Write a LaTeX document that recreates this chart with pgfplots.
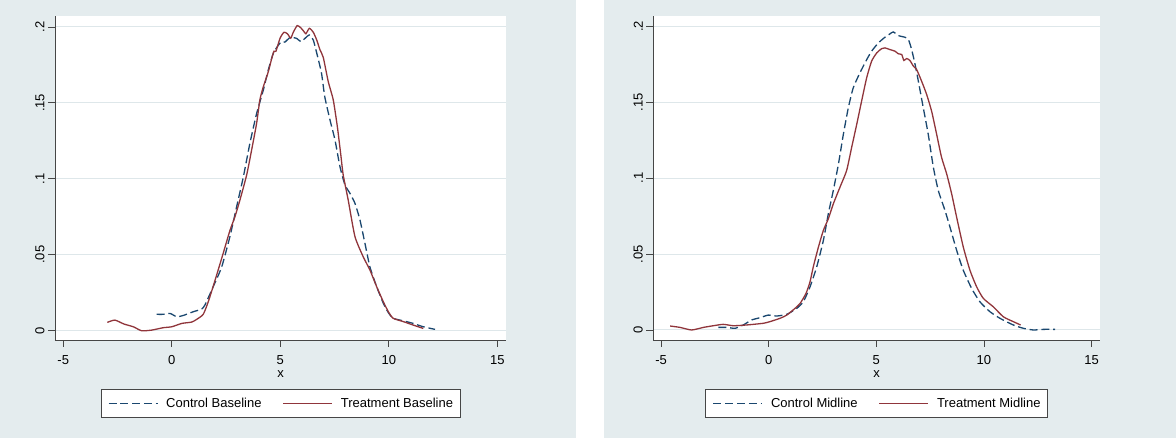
\documentclass[border=0pt]{standalone}
\usepackage{pgfplots}
\pgfplotsset{compat=1.18}
\usepackage{fontspec}
\setmainfont{Liberation Sans}
\definecolor{bgc}{RGB}{228,236,238}
\definecolor{gridc}{RGB}{222,231,234}
\definecolor{ctrl}{RGB}{26,71,111}
\definecolor{treat}{RGB}{144,53,59}
\definecolor{axc}{RGB}{70,70,70}

\pgfplotstableread{
x y
-2.97 0.0055
-2.62 0.0070
-2.20 0.0044
-1.77 0.0026
-1.39 0.0000
-0.93 0.0004
-0.39 0.0020
0.00 0.0026
0.46 0.0048
0.92 0.0057
1.15 0.0075
1.45 0.0108
1.68 0.0190
1.99 0.0330
2.37 0.0510
2.68 0.0660
2.91 0.0750
3.14 0.0860
3.45 0.1025
3.68 0.1190
3.91 0.1366
4.06 0.1520
4.22 0.1607
4.45 0.1706
4.60 0.1790
4.71 0.1840
4.80 0.1840
4.99 0.1926
5.17 0.1965
5.33 0.1955
5.48 0.1926
5.60 0.1965
5.78 0.2009
5.94 0.1995
6.09 0.1970
6.18 0.1955
6.34 0.1991
6.52 0.1965
6.68 0.1914
6.83 0.1849
6.98 0.1800
7.21 0.1640
7.44 0.1520
7.63 0.1343
7.78 0.1168
7.90 0.1025
8.13 0.0860
8.44 0.0620
8.82 0.0487
9.13 0.0400
9.44 0.0290
9.75 0.0190
9.98 0.0125
10.20 0.0082
10.67 0.0060
11.13 0.0037
11.59 0.0015
}\treatbase

\pgfplotstableread{
x y
-0.70 0.0108
-0.39 0.0108
-0.08 0.0114
0.23 0.0092
0.54 0.0101
0.99 0.0125
1.38 0.0143
1.53 0.0170
1.91 0.0290
2.30 0.0420
2.68 0.0620
2.99 0.0817
3.30 0.1014
3.60 0.1234
3.91 0.1430
4.22 0.1585
4.45 0.1718
4.68 0.1827
4.91 0.1880
5.06 0.1903
5.21 0.1900
5.45 0.1930
5.75 0.1925
5.95 0.1903
6.14 0.1925
6.34 0.1947
6.52 0.1914
6.70 0.1816
6.90 0.1695
7.05 0.1540
7.29 0.1388
7.52 0.1256
7.75 0.1080
7.98 0.0960
8.21 0.0905
8.44 0.0839
8.67 0.0730
8.90 0.0576
9.13 0.0420
9.44 0.0290
9.75 0.0180
9.98 0.0119
10.20 0.0082
10.67 0.0065
11.13 0.0048
11.59 0.0026
12.13 0.0009
}\ctrlbase

\pgfplotstableread{
x y
-4.58 0.0026
-4.12 0.0017
-3.58 0.0000
-3.03 0.0017
-2.57 0.0028
-2.11 0.0037
-1.64 0.0028
-1.02 0.0033
-0.25 0.0044
0.06 0.0055
0.53 0.0077
0.84 0.0098
1.22 0.0142
1.46 0.0175
1.73 0.0240
1.92 0.0317
2.07 0.0415
2.31 0.0546
2.54 0.0656
2.77 0.0732
3.00 0.0830
3.31 0.0940
3.62 0.1050
3.85 0.1200
4.09 0.1355
4.32 0.1510
4.55 0.1660
4.78 0.1770
5.02 0.1825
5.25 0.1853
5.40 0.1858
5.63 0.1847
5.87 0.1836
6.02 0.1819
6.18 0.1814
6.28 0.1775
6.41 0.1788
6.56 0.1775
6.72 0.1738
6.87 0.1716
7.10 0.1640
7.34 0.1550
7.57 0.1440
7.80 0.1290
8.03 0.1137
8.27 0.1027
8.50 0.0896
8.73 0.0743
9.04 0.0546
9.35 0.0393
9.66 0.0284
9.97 0.0208
10.43 0.0153
10.90 0.0087
11.36 0.0055
11.70 0.0033
}\treatmid

\pgfplotstableread{
x y
-2.34 0.0017
-1.95 0.0017
-1.56 0.0011
-1.18 0.0033
-0.79 0.0066
-0.40 0.0081
-0.02 0.0098
0.37 0.0092
0.84 0.0103
1.30 0.0142
1.61 0.0186
1.92 0.0284
2.23 0.0415
2.54 0.0590
2.77 0.0765
3.00 0.0918
3.24 0.1093
3.47 0.1290
3.70 0.1464
3.93 0.1596
4.24 0.1694
4.55 0.1780
4.78 0.1836
5.09 0.1890
5.40 0.1928
5.63 0.1950
5.79 0.1963
6.02 0.1939
6.33 0.1928
6.49 0.1913
6.64 0.1847
6.80 0.1749
6.95 0.1640
7.18 0.1464
7.41 0.1290
7.65 0.1071
7.88 0.0918
8.19 0.0787
8.42 0.0678
8.73 0.0525
9.04 0.0393
9.43 0.0273
9.81 0.0186
10.28 0.0120
10.74 0.0077
11.36 0.0033
11.83 0.0011
12.29 0.0000
12.76 0.0004
13.30 0.0004
}\ctrlmid

\pgfplotsset{
  stata/.style={
    scale only axis,
    width=450pt, height=324pt,
    xmin=-5.38, xmax=15.4,
    ymin=-0.0061, ymax=0.2072,
    axis x line*=bottom, axis y line*=left,
    axis line style={axc, line width=0.8pt},
    every tick/.style={axc, line width=0.8pt},
    tick align=outside, major tick length=7pt,
    xtick={-5,0,5,10,15}, xticklabels={-5,0,5,10,15},
    xticklabel style={yshift=-5pt},
    ytick={0,0.05,0.1,0.15,0.2}, yticklabels={0,.05,.1,.15,.2},
    yticklabel style={rotate=90, anchor=south},
    ymajorgrids, grid style={gridc, line width=1pt},
    font=\fontsize{13}{15}\selectfont,
    /pgf/number format/assume math mode=true,
    xlabel={x}, xlabel style={at={(axis description cs:0.5,0)}, anchor=center, yshift=-34pt},
    axis background/.style={fill=white},
    legend columns=2,
    legend style={at={(0.5,-0.151)}, anchor=north, draw=axc, line width=0.6pt, fill=white,
      font=\fontsize{13}{15}\selectfont, inner xsep=7pt, inner ysep=8.5pt,
      nodes={inner sep=0pt},
      /tikz/every odd column/.append style={column sep=8pt},
      /tikz/every even column/.append style={column sep=21pt}},
    legend image code/.code={\draw[#1] (0pt,0pt) -- (49pt,0pt);},
    clip=false,
  },
  ctl/.style={ctrl, line width=1.3pt, dash pattern=on 8pt off 3.8pt, smooth, tension=0.35},
  trt/.style={treat, line width=1.3pt, smooth, tension=0.35},
}

\begin{document}
\begin{tikzpicture}[x=1pt,y=1pt]
\useasboundingbox (0,0) rectangle (1176,438);
\fill[bgc] (0,0) rectangle (576,438);
\fill[bgc] (604,0) rectangle (1176,438);
\begin{axis}[stata, at={(55pt,98pt)}, anchor=south west, width=451pt]
\addplot[ctl] table[x=x,y=y] {\ctrlbase};
\addlegendentry{Control Baseline}
\addplot[trt] table[x=x,y=y] {\treatbase};
\addlegendentry{Treatment Baseline}
\end{axis}
\begin{axis}[stata, at={(653.3pt,98pt)}, anchor=south west, width=446.7pt, xmin=-5.36, xmax=15.39, ymin=-0.0066, ymax=0.2068]
\addplot[ctl] table[x=x,y=y] {\ctrlmid};
\addlegendentry{Control Midline}
\addplot[trt] table[x=x,y=y] {\treatmid};
\addlegendentry{Treatment Midline}
\end{axis}
\end{tikzpicture}
\end{document}
